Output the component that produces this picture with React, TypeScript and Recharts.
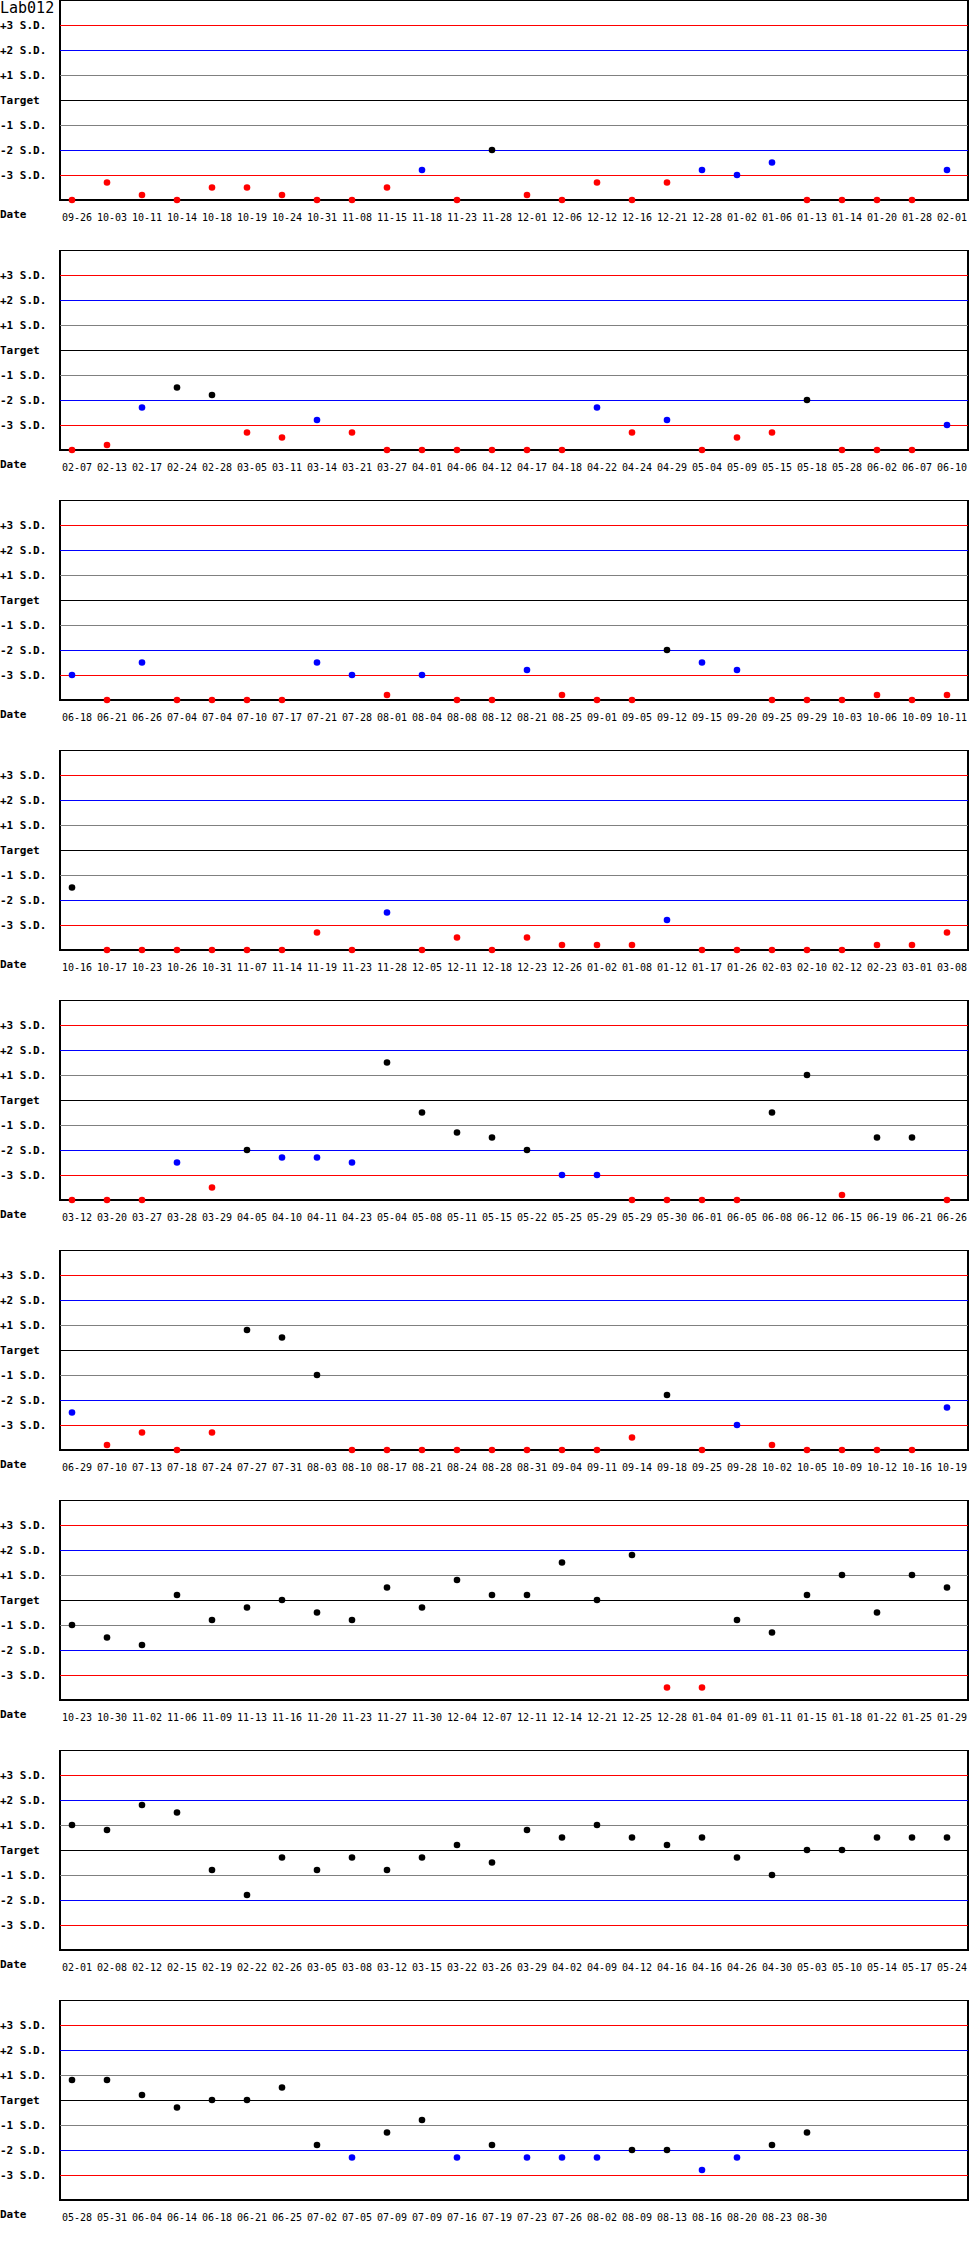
import { ScatterChart, Scatter, XAxis, YAxis, ReferenceLine, ReferenceArea } from 'recharts'

const title = 'Lab012'

const dates1 = ['09-26', '10-03', '10-11', '10-14', '10-18', '10-19', '10-24', '10-31', '11-08', '11-15', '11-18', '11-23', '11-28', '12-01', '12-06', '12-12', '12-16', '12-21', '12-28', '01-02', '01-06', '01-13', '01-14', '01-20', '01-28', '02-01']
const values1 = [-4, -3.3, -3.8, -4, -3.5, -3.5, -3.8, -4, -4, -3.5, -2.8, -4, -2, -3.8, -4, -3.3, -4, -3.3, -2.8, -3, -2.5, -4, -4, -4, -4, -2.8]

const dates2 = ['02-07', '02-13', '02-17', '02-24', '02-28', '03-05', '03-11', '03-14', '03-21', '03-27', '04-01', '04-06', '04-12', '04-17', '04-18', '04-22', '04-24', '04-29', '05-04', '05-09', '05-15', '05-18', '05-28', '06-02', '06-07', '06-10']
const values2 = [-4, -3.8, -2.3, -1.5, -1.8, -3.3, -3.5, -2.8, -3.3, -4, -4, -4, -4, -4, -4, -2.3, -3.3, -2.8, -4, -3.5, -3.3, -2, -4, -4, -4, -3]

const dates3 = ['06-18', '06-21', '06-26', '07-04', '07-04', '07-10', '07-17', '07-21', '07-28', '08-01', '08-04', '08-08', '08-12', '08-21', '08-25', '09-01', '09-05', '09-12', '09-15', '09-20', '09-25', '09-29', '10-03', '10-06', '10-09', '10-11']
const values3 = [-3, -4, -2.5, -4, -4, -4, -4, -2.5, -3, -3.8, -3, -4, -4, -2.8, -3.8, -4, -4, -2, -2.5, -2.8, -4, -4, -4, -3.8, -4, -3.8]

const dates4 = ['10-16', '10-17', '10-23', '10-26', '10-31', '11-07', '11-14', '11-19', '11-23', '11-28', '12-05', '12-11', '12-18', '12-23', '12-26', '01-02', '01-08', '01-12', '01-17', '01-26', '02-03', '02-10', '02-12', '02-23', '03-01', '03-08']
const values4 = [-1.5, -4, -4, -4, -4, -4, -4, -3.3, -4, -2.5, -4, -3.5, -4, -3.5, -3.8, -3.8, -3.8, -2.8, -4, -4, -4, -4, -4, -3.8, -3.8, -3.3]

const dates5 = ['03-12', '03-20', '03-27', '03-28', '03-29', '04-05', '04-10', '04-11', '04-23', '05-04', '05-08', '05-11', '05-15', '05-22', '05-25', '05-29', '05-29', '05-30', '06-01', '06-05', '06-08', '06-12', '06-15', '06-19', '06-21', '06-26']
const values5 = [-4, -4, -4, -2.5, -3.5, -2, -2.3, -2.3, -2.5, 1.5, -0.5, -1.3, -1.5, -2, -3, -3, -4, -4, -4, -4, -0.5, 1, -3.8, -1.5, -1.5, -4]

const dates6 = ['06-29', '07-10', '07-13', '07-18', '07-24', '07-27', '07-31', '08-03', '08-10', '08-17', '08-21', '08-24', '08-28', '08-31', '09-04', '09-11', '09-14', '09-18', '09-25', '09-28', '10-02', '10-05', '10-09', '10-12', '10-16', '10-19']
const values6 = [-2.5, -3.8, -3.3, -4, -3.3, 0.8, 0.5, -1, -4, -4, -4, -4, -4, -4, -4, -4, -3.5, -1.8, -4, -3, -3.8, -4, -4, -4, -4, -2.3]

const dates7 = ['10-23', '10-30', '11-02', '11-06', '11-09', '11-13', '11-16', '11-20', '11-23', '11-27', '11-30', '12-04', '12-07', '12-11', '12-14', '12-21', '12-25', '12-28', '01-04', '01-09', '01-11', '01-15', '01-18', '01-22', '01-25', '01-29']
const values7 = [-1, -1.5, -1.8, 0.2, -0.8, -0.3, 0, -0.5, -0.8, 0.5, -0.3, 0.8, 0.2, 0.2, 1.5, 0, 1.8, -3.5, -3.5, -0.8, -1.3, 0.2, 1, -0.5, 1, 0.5]

const dates8 = ['02-01', '02-08', '02-12', '02-15', '02-19', '02-22', '02-26', '03-05', '03-08', '03-12', '03-15', '03-22', '03-26', '03-29', '04-02', '04-09', '04-12', '04-16', '04-16', '04-26', '04-30', '05-03', '05-10', '05-14', '05-17', '05-24']
const values8 = [1, 0.8, 1.8, 1.5, -0.8, -1.8, -0.3, -0.8, -0.3, -0.8, -0.3, 0.2, -0.5, 0.8, 0.5, 1, 0.5, 0.2, 0.5, -0.3, -1, 0, 0, 0.5, 0.5, 0.5]

const dates9 = ['05-28', '05-31', '06-04', '06-14', '06-18', '06-21', '06-25', '07-02', '07-05', '07-09', '07-09', '07-16', '07-19', '07-23', '07-26', '08-02', '08-09', '08-13', '08-16', '08-20', '08-23', '08-30']
const values9 = [0.8, 0.8, 0.2, -0.3, 0, 0, 0.5, -1.8, -2.3, -1.3, -0.8, -2.3, -1.8, -2.3, -2.3, -2.3, -2, -2, -2.8, -2.3, -1.8, -1.3]

const sdTicks = [3, 2, 1, 0, -1, -2, -3]
const sdLabels: Record<number, string> = {
  3: '+3 S.D.', 2: '+2 S.D.', 1: '+1 S.D.', 0: 'Target',
  '-1': '-1 S.D.', '-2': '-2 S.D.', '-3': '-3 S.D.',
}

const panels = [
  { dates: dates1, values: values1 },
  { dates: dates2, values: values2 },
  { dates: dates3, values: values3 },
  { dates: dates4, values: values4 },
  { dates: dates5, values: values5 },
  { dates: dates6, values: values6 },
  { dates: dates7, values: values7 },
  { dates: dates8, values: values8 },
  { dates: dates9, values: values9 },
]

// 35px per point, first point 12px right of the frame
const X_MIN = -12 / 35
const X_MAX = 896 / 35

const lineColor = (v: number) => {
  const a = Math.abs(v)
  if (a === 3) return '#ff0000'
  if (a === 2) return '#0000ff'
  if (a === 1) return '#808080'
  return '#000000'
}

const dotColor = (v: number) => {
  const a = Math.abs(v)
  if (a > 3) return '#ff0000'
  if (a > 2) return '#0000ff'
  return '#000000'
}

const mono = '"DejaVu Sans Mono", monospace'

function SdTick(props: any) {
  return (
    <text x={0} y={props.y} dominantBaseline="central" textAnchor="start"
      fontFamily={mono} fontWeight="bold" fontSize={11} fill="#000">
      {sdLabels[props.payload.value]}
    </text>
  )
}

function Panel({ dates, values, showTitle }: { dates: string[]; values: number[]; showTitle: boolean }) {
  const data = values.map((v, i) => ({ i, v }))
  const DateTick = (props: any) => (
    <text x={props.x + 5} y={217} dominantBaseline="central" textAnchor="middle"
      fontFamily={mono} fontSize={10} fill="#000">
      {dates[props.payload.value]}
    </text>
  )
  return (
    <div style={{ position: 'relative', width: 970, height: 250 }}>
      <ScatterChart width={970} height={250} margin={{ top: 0, right: 2, bottom: 0, left: 0 }}>
        <XAxis type="number" dataKey="i" domain={[X_MIN, X_MAX]}
          ticks={dates.map((_, i) => i)} interval={0} height={50}
          axisLine={false} tickLine={false} tick={DateTick} />
        <YAxis type="number" dataKey="v" domain={[-4, 4]} ticks={sdTicks}
          width={60} axisLine={false} tickLine={false} tick={SdTick} />
        {sdTicks.map((t) => (
          <ReferenceLine key={t} y={t} stroke={lineColor(t)} strokeWidth={1} shapeRendering="crispEdges" />
        ))}
        <ReferenceArea x1={X_MIN} x2={X_MAX} y1={-4} y2={4} fill="none" fillOpacity={0}
          stroke="#000" strokeWidth={2} shapeRendering="crispEdges" />
        <Scatter data={data} isAnimationActive={false}
          shape={(p: any) => <circle cx={p.cx} cy={p.cy} r={3.3} fill={dotColor(p.payload.v)} />} />
      </ScatterChart>
      <div style={{ position: 'absolute', left: 0, top: 209, font: `bold 11px/11px ${mono}` }}>Date</div>
      {showTitle && (
        <div style={{ position: 'absolute', left: 0, top: 0, font: `15px/16px ${mono}`, background: '#fff' }}>{title}</div>
      )}
    </div>
  )
}

export default function App() {
  return (
    <div style={{ width: 970, background: '#fff' }}>
      <style>{'body{margin:0;background:#fff}'}</style>
      {panels.map((p, k) => (
        <Panel key={k} dates={p.dates} values={p.values} showTitle={k === 0} />
      ))}
    </div>
  )
}
